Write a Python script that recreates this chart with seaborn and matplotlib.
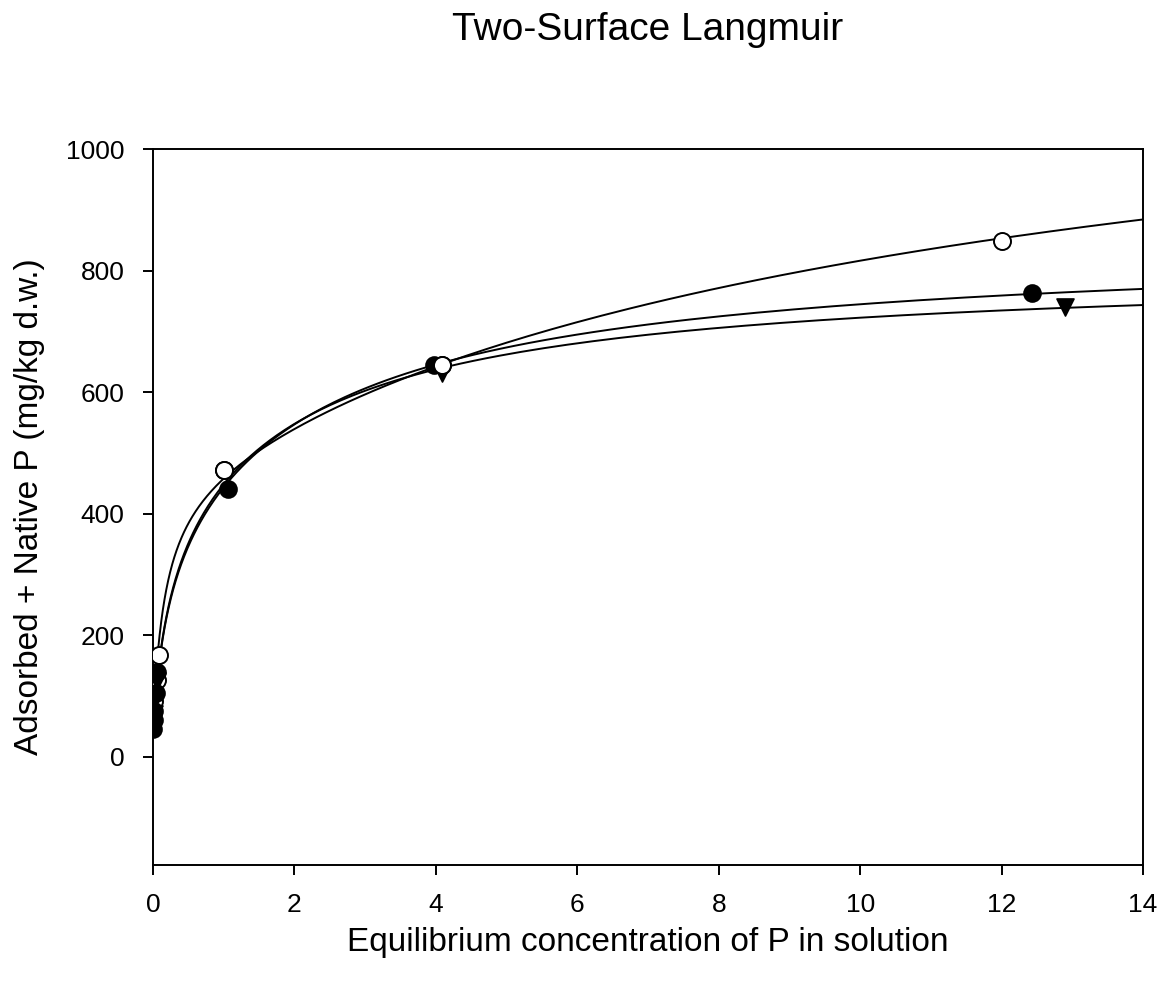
import numpy as np
import pandas as pd
import matplotlib
matplotlib.use("Agg")
import matplotlib.pyplot as plt
import seaborn as sns

# ---- data ----
open_x = [0.02, 0.05, 0.08, 1.00, 4.08, 12.00]
open_y = [92, 127, 168, 472, 645, 848]
filled_x = [0.005, 0.01, 0.02, 0.04, 0.06, 1.06, 3.98, 12.43]
filled_y = [45, 60, 75, 105, 140, 440, 645, 763]
tri_x = [0.005, 0.01, 0.025, 0.05, 4.08, 12.90]
tri_y = [55, 70, 95, 125, 632, 740]

# two-surface Langmuir fit parameters: q0, S1, K1, S2, K2
open_fit = [50, 400, 6.0, 787, 0.09]
filled_fit = [45, 300, 5.0, 502, 0.42]
tri_fit = [45, 300, 5.0, 460, 0.50]

x_ticks = [0, 2, 4, 6, 8, 10, 12, 14]
y_ticks = [0, 200, 400, 600, 800, 1000]


def langmuir2(c, p):
    q0, s1, k1, s2, k2 = p
    return q0 + s1 * k1 * c / (1 + k1 * c) + s2 * k2 * c / (1 + k2 * c)


sns.set_style("ticks")
plt.rcParams['font.family'] = ['Liberation Sans', 'DejaVu Sans']

fig = plt.figure(figsize=(11.69, 9.88), dpi=100)
ax = fig.add_axes([153 / 1169, 1 - 865 / 988, (1143 - 153) / 1169, (865 - 149) / 988])

cgrid = np.concatenate([[0.0], np.geomspace(1e-4, 14, 600)])
for p in [open_fit, filled_fit, tri_fit]:
    df = pd.DataFrame({"x": cgrid, "y": langmuir2(cgrid, p)})
    sns.lineplot(data=df, x="x", y="y", ax=ax, color="black", lw=1.4,
                 estimator=None, sort=False, zorder=2)

ms = 150
sns.scatterplot(x=open_x, y=open_y, ax=ax, marker="o", s=ms, facecolor="white",
                edgecolor="black", linewidth=1.4, zorder=3)
sns.scatterplot(x=tri_x, y=tri_y, ax=ax, marker="v", s=ms, color="black",
                edgecolor="black", linewidth=1.2, zorder=4)
sns.scatterplot(x=filled_x, y=filled_y, ax=ax, marker="o", s=ms, color="black",
                edgecolor="black", linewidth=1.2, zorder=5)
# the open circles at ~1 and ~4 sit on top of the filled ones in the reference
sns.scatterplot(x=open_x[3:5], y=open_y[3:5], ax=ax, marker="o", s=ms,
                facecolor="white", edgecolor="black", linewidth=1.4, zorder=6)

ax.set_xlim(0, 14)
ax.set_ylim(-178, 1000)
ax.set_xticks(x_ticks)
ax.set_yticks(y_ticks)
ax.tick_params(axis="both", direction="out", length=7.5, width=1.4,
               labelsize=19, colors="black", top=False, right=False, pad=13)
for s in ax.spines.values():
    s.set_linewidth(1.4)
    s.set_color("black")

ax.set_xlabel("Equilibrium concentration of P in solution", fontsize=24, labelpad=7,
              color="black")
ax.set_ylabel("Adsorbed + Native P (mg/kg d.w.)", fontsize=24, labelpad=15,
              color="black")
fig.text(0.5 * (153 + 1143) / 1169, 1 - 30 / 988, "Two-Surface Langmuir",
         fontsize=28, ha="center", va="center", color="black")

fig.savefig("out.png", dpi=100)
